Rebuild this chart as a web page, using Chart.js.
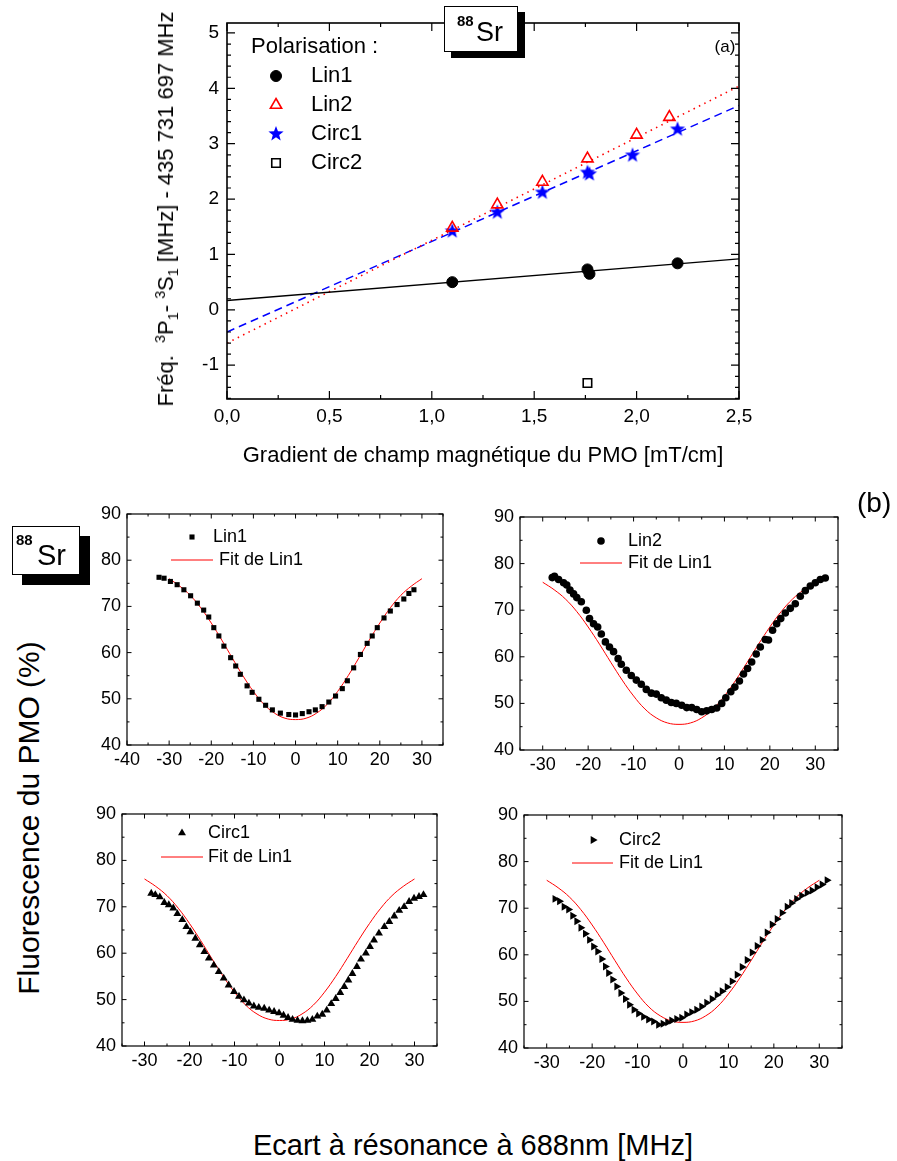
<!DOCTYPE html>
<html>
<head>
<meta charset="utf-8">
<script src="https://cdn.jsdelivr.net/npm/chart.js@4.4.1/dist/chart.umd.min.js"></script>
<style>
  body { margin: 0; background: #fff; }
  #page { position: relative; width: 897px; height: 1161px; overflow: hidden; font-family: "Liberation Sans", Arial, sans-serif; color: #000; }
  canvas { position: absolute; }
  .txt { position: absolute; white-space: nowrap; line-height: 1; }
  .rot { transform: translate(-50%, -50%) rotate(-90deg); }
  .ctr { transform: translate(-50%, -50%); }
  .sr { position: absolute; background: #fff; border: 1px solid #000; }
  .sr span { position: absolute; line-height: 1; }
  .iso { font-weight: bold; }
  sup, sub { font-size: 65%; line-height: 0; }
</style>
</head>
<body>
<div id="page">
  <canvas id="chartA"></canvas>
  <canvas id="chartLin1"></canvas>
  <canvas id="chartLin2"></canvas>
  <canvas id="chartCirc1"></canvas>
  <canvas id="chartCirc2"></canvas>

  <div class="txt rot" style="left:166px;top:209px;font-size:22px">Fréq.&nbsp; <sup>3</sup>P<sub>1</sub>- <sup>3</sup>S<sub>1</sub> [MHz] - 435 731 697 MHz</div>
  <div class="txt ctr" style="left:483px;top:455px;font-size:22px">Gradient de champ magnétique du PMO [mT/cm]</div>
  <div class="txt ctr" style="left:725px;top:46px;font-size:17px">(a)</div>
  <div class="sr" style="left:444px;top:6px;width:72px;height:44px;box-shadow:7px 6px 0 #000">
    <span class="iso" style="left:12px;top:6px;font-size:15px">88</span>
    <span style="left:31px;top:12px;font-size:27px">Sr</span>
  </div>

  <div class="txt" style="left:857px;top:489px;font-size:28px">(b)</div>
  <div class="sr" style="left:12px;top:526px;width:66px;height:47px;box-shadow:10px 10px 0 #000">
    <span class="iso" style="left:3px;top:5px;font-size:15px">88</span>
    <span style="left:24px;top:14px;font-size:29px">Sr</span>
  </div>
  <div class="txt rot" style="left:29px;top:818px;font-size:30px">Fluorescence du PMO (%)</div>
  <div class="txt ctr" style="left:473px;top:1145px;font-size:29px">Ecart à résonance à 688nm [MHz]</div>
</div>

<script>
// ---- (a) line shift vs MOT gradient ----
const gradLin1 = [1.10, 1.76, 1.77, 2.20];
const freqLin1 = [0.50, 0.73, 0.65, 0.84];
const gradLin2 = [1.10, 1.32, 1.54, 1.76, 2.00, 2.16];
const freqLin2 = [1.48, 1.90, 2.31, 2.73, 3.16, 3.48];
const gradCirc1 = [1.10, 1.32, 1.54, 1.76, 1.77, 1.98, 2.20];
const freqCirc1 = [1.42, 1.76, 2.12, 2.48, 2.45, 2.79, 3.26];
const gradCirc2 = [1.76];
const freqCirc2 = [-1.32];
const fitGrad = [0, 2.5];
const fitFreqLin1 = [0.17, 0.92];
const fitFreqLin2 = [-0.60, 4.04];
const fitFreqCirc1 = [-0.40, 3.69];
const gradTicks = [0, 0.5, 1, 1.5, 2, 2.5];
const freqTicks = [-1, 0, 1, 2, 3, 4, 5];

// ---- (b) fluorescence vs detuning ----
const detFit = [-30, -27.5, -25, -22.5, -20, -17.5, -15, -12.5, -10, -7.5, -5, -2.5, 0,
                2.5, 5, 7.5, 10, 12.5, 15, 17.5, 20, 22.5, 25, 27.5, 30];
const fluoFit = [76.0, 74.4, 72.4, 69.7, 66.4, 62.7, 58.8, 55.0, 51.6, 48.8, 46.9, 45.8, 45.5,
                 45.8, 46.9, 48.8, 51.6, 55.0, 58.8, 62.7, 66.4, 69.7, 72.4, 74.4, 76.0];

const detLin1 = [-32.4, -31.2, -29.7, -28.1, -26.5, -24.9, -23.3, -21.8, -20.6, -19.4, -18.2, -17.0,
                 -15.4, -14.2, -13.1, -11.5, -10.3, -8.7, -7.1, -5.5, -3.6, -1.6, 0, 1.6, 3.2, 4.7,
                 6.3, 7.9, 9.5, 11.1, 12.3, 13.8, 15.4, 17.0, 18.2, 19.4, 21.0, 22.5, 24.1, 25.7, 26.9, 28.1];
const fluoLin1 = [76.3, 76.1, 75.4, 74.7, 73.6, 72.3, 70.7, 69.2, 67.7, 65.4, 63.6, 61.4,
                  58.9, 57.1, 55.3, 52.8, 51.4, 49.9, 48.6, 47.6, 46.9, 46.6, 46.5, 46.8, 47.2, 47.6,
                  48.3, 49.3, 50.6, 52.2, 53.9, 56.7, 59.6, 62.0, 63.6, 65.4, 67.5, 69.0, 70.4, 71.6, 72.8, 73.6];

const detLin2 = [-27.9, -27.4, -26.5, -25.4, -24.7, -24.0, -23.2, -22.5, -21.5, -20.4, -19.7, -18.8,
                 -17.9, -17.1, -16.2, -15.3, -14.4, -13.4, -12.7, -11.6, -10.5, -9.4, -8.3, -7.2,
                 -6.1, -5.0, -3.9, -2.8, -1.7, -0.6, 0.6, 1.7, 2.8, 3.9, 5.0, 6.1, 7.2, 8.3, 9.4,
                 10.3, 11.4, 12.3, 13.3, 14.2, 15.1, 16.0, 17.0, 17.9, 19.0, 19.7, 20.6, 21.5, 22.4,
                 23.4, 24.5, 25.6, 26.7, 27.8, 28.9, 30.0, 31.1, 32.2];
const fluoLin2 = [77.0, 77.3, 76.6, 75.9, 75.4, 74.3, 73.5, 72.7, 71.8, 70.0, 68.2, 67.1,
                  66.4, 64.9, 63.2, 62.1, 61.1, 59.6, 58.4, 57.1, 56.0, 55.0, 54.1, 53.0,
                  52.2, 52.0, 51.2, 50.7, 50.2, 50.0, 49.6, 49.1, 49.1, 48.7, 48.2, 48.4, 48.7, 49.0, 50.0,
                  51.2, 52.5, 53.5, 54.8, 56.3, 57.5, 58.9, 60.6, 62.1, 63.7, 63.6, 65.7, 67.1, 68.2,
                  69.4, 70.4, 71.4, 73.0, 74.2, 75.2, 75.9, 76.6, 76.9];

const detCirc1 = [-28.5, -27.6, -26.6, -25.6, -24.6, -23.6, -22.7, -21.6, -20.7, -19.8, -18.7, -17.7,
                  -16.7, -15.7, -14.6, -13.5, -12.4, -11.3, -10.1, -9.0, -7.9, -6.8, -5.7, -4.6, -3.4,
                  -2.3, -1.2, -0.1, 0.9, 1.9, 2.9, 4.0, 5.1, 6.2, 7.3, 8.4, 9.5, 10.5, 11.5, 12.5, 13.5,
                  14.4, 15.3, 16.2, 17.2, 18.1, 19.2, 20.1, 21.0, 22.1, 23.3, 24.4, 25.5, 26.6, 27.7,
                  28.8, 29.9, 31.0, 32.0];
const fluoCirc1 = [72.9, 72.6, 72.1, 70.9, 70.4, 69.7, 68.5, 67.2, 65.7, 64.6, 63.2, 61.8,
                   60.3, 58.9, 57.4, 56.0, 54.6, 53.1, 51.7, 50.7, 49.9, 49.2, 48.6, 48.3, 48.1,
                   47.7, 47.4, 47.1, 46.6, 46.1, 45.7, 45.5, 45.4, 45.5, 45.7, 46.4, 46.8, 47.7, 49.1, 50.2, 51.5,
                   52.8, 54.2, 55.6, 57.1, 58.7, 60.0, 61.4, 62.8, 64.3, 65.7, 66.8, 68.0, 69.2, 70.0,
                   71.1, 71.8, 72.2, 72.6];

const detCirc2 = [-28.2, -27.2, -26.2, -25.2, -24.3, -23.4, -22.5, -21.5, -20.6, -19.7, -18.8, -17.9,
                  -17.1, -16.4, -15.5, -14.6, -13.7, -12.7, -11.8, -10.8, -9.8, -8.7, -7.6, -6.5, -5.4,
                  -4.4, -3.4, -2.5, -1.4, -0.3, 0.8, 1.9, 3.0, 4.1, 5.2, 6.4, 7.5, 8.6, 9.7, 10.8, 11.9,
                  13.0, 14.1, 15.2, 16.3, 17.4, 18.5, 19.6, 20.7, 21.8, 22.9, 23.9, 25.0, 26.1, 27.3,
                  28.4, 29.5, 30.6, 31.7];
const fluoCirc2 = [72.0, 71.5, 70.3, 69.7, 68.4, 67.2, 65.8, 64.5, 63.2, 61.8, 60.7, 59.1,
                   57.5, 56.1, 54.7, 53.2, 51.8, 50.5, 49.3, 48.2, 47.4, 46.7, 46.1, 45.7, 45.0,
                   45.2, 45.5, 45.9, 46.2, 46.5, 47.2, 47.7, 48.2, 48.9, 49.7, 50.5, 51.4, 52.2, 53.1, 54.3, 55.7,
                   57.4, 58.9, 60.5, 61.9, 63.2, 64.8, 66.5, 67.7, 69.0, 70.3, 71.1, 72.0, 72.7, 73.3,
                   73.8, 74.5, 75.1, 76.0];

const detTicksWide = [-40, -30, -20, -10, 0, 10, 20, 30];
const detTicks = [-30, -20, -10, 0, 10, 20, 30];
const fluoTicks = [40, 50, 60, 70, 80, 90];

const FONT = '"Liberation Sans", Arial, sans-serif';
const AX_W = 50, AX_H = 36, PAD = 20;

function pts(xs, ys) {
    return xs.map((x, i) => ({ x: x, y: ys[i] }));
}

function starImage(r, color) {
    const c = document.createElement('canvas');
    const s = Math.ceil(r * 2) + 2;
    c.width = c.height = s;
    const g = c.getContext('2d');
    g.fillStyle = color;
    g.beginPath();
    for (let i = 0; i < 10; i++) {
        const rr = i % 2 ? r * 0.42 : r;
        const a = -Math.PI / 2 + i * Math.PI / 5;
        g.lineTo(s / 2 + rr * Math.cos(a), s / 2 + rr * Math.sin(a));
    }
    g.closePath();
    g.fill();
    return c;
}

// frame + inward major/minor ticks on all four sides
const boxTicks = {
    id: 'boxTicks',
    afterDatasetsDraw(chart, args, o) {
        const { ctx, chartArea: a, scales } = chart;
        const minors = (ticks, step, min, max) => {
            const out = [];
            for (let v = ticks[0] - step * 20; v <= max + 1e-9; v += step) {
                if (v >= min - 1e-9 && !ticks.some(t => Math.abs(t - v) < 1e-6)) out.push(v);
            }
            return out;
        };
        const xs = scales.x, ys = scales.y;
        const xT = xs.ticks.map(t => t.value), yT = ys.ticks.map(t => t.value);
        ctx.save();
        ctx.strokeStyle = '#000';
        ctx.lineWidth = o.lw;
        ctx.beginPath();
        const tickX = (v, len) => {
            const p = xs.getPixelForValue(v);
            ctx.moveTo(p, a.bottom); ctx.lineTo(p, a.bottom - len);
            ctx.moveTo(p, a.top); ctx.lineTo(p, a.top + len);
        };
        const tickY = (v, len) => {
            const p = ys.getPixelForValue(v);
            ctx.moveTo(a.left, p); ctx.lineTo(a.left + len, p);
            ctx.moveTo(a.right, p); ctx.lineTo(a.right - len, p);
        };
        xT.forEach(v => tickX(v, o.major));
        yT.forEach(v => tickY(v, o.major));
        minors(xT, o.xMinor, xs.min, xs.max).forEach(v => tickX(v, o.minor));
        minors(yT, o.yMinor, ys.min, ys.max).forEach(v => tickY(v, o.minor));
        ctx.stroke();
        ctx.lineWidth = o.frame;
        ctx.strokeRect(a.left, a.top, a.right - a.left, a.bottom - a.top);
        ctx.restore();
    }
};

// legend placed inside the plot, offsets in px from the chart area corner
const insideLegend = {
    id: 'insideLegend',
    afterDraw(chart, args, o) {
        const { ctx, chartArea: a } = chart;
        ctx.save();
        ctx.font = o.size + 'px ' + FONT;
        ctx.fillStyle = '#000';
        ctx.textBaseline = 'middle';
        if (o.header) ctx.fillText(o.header.text, a.left + o.header.x, a.top + o.header.y);
        o.items.forEach(it => {
            const ds = chart.data.datasets[it.ds];
            const y = a.top + it.y;
            ctx.save();
            if (it.line) {
                ctx.strokeStyle = ds.borderColor;
                ctx.lineWidth = ds.borderWidth;
                ctx.beginPath();
                ctx.moveTo(a.left + it.line[0], y);
                ctx.lineTo(a.left + it.line[1], y);
                ctx.stroke();
            } else {
                ctx.fillStyle = ds.backgroundColor;
                ctx.strokeStyle = ds.borderColor;
                ctx.lineWidth = ds.borderWidth;
                Chart.helpers.drawPoint(ctx, {
                    pointStyle: ds.pointStyle, radius: ds.pointRadius,
                    rotation: ds.rotation || 0, borderWidth: ds.borderWidth
                }, a.left + it.mx, y);
            }
            ctx.restore();
            ctx.fillText(ds.label, a.left + it.tx, y);
        });
        ctx.restore();
    }
};

function axis(min, max, ticks, size, pad, fmt, isX) {
    const ax = {
        type: 'linear', min: min, max: max,
        afterBuildTicks: s => { s.ticks = ticks.map(v => ({ value: v })); },
        grid: { display: false, drawTicks: false },
        border: { display: false },
        ticks: {
            color: '#000', font: { family: FONT, size: size }, padding: pad,
            maxRotation: 0, autoSkip: false, callback: fmt || (v => String(v))
        }
    };
    if (isX) ax.afterFit = s => { s.height = AX_H; };
    else ax.afterFit = s => { s.width = AX_W; };
    return ax;
}

function makeChart(id, box, datasets, scales, plugins) {
    const cv = document.getElementById(id);
    const w = box.r - box.l + AX_W + 2 * PAD;
    const h = box.b - box.t + AX_H + 2 * PAD;
    cv.width = w; cv.height = h;
    cv.style.left = (box.l - AX_W - PAD) + 'px';
    cv.style.top = (box.t - PAD) + 'px';
    cv.style.width = w + 'px'; cv.style.height = h + 'px';
    return new Chart(cv, {
        type: 'scatter',
        data: { datasets: datasets },
        options: {
            responsive: false, animation: false, devicePixelRatio: 1,
            layout: { padding: PAD },
            scales: scales,
            plugins: Object.assign({ legend: { display: false }, tooltip: { enabled: false } }, plugins)
        },
        plugins: [boxTicks, insideLegend]
    });
}

// ---- (a) ----
const comma = v => v.toFixed(1).replace('.', ',');
makeChart('chartA', { l: 227, t: 23, r: 739, b: 399 }, [
    { label: 'Lin1', data: pts(gradLin1, freqLin1), pointStyle: 'circle', pointRadius: 5.5,
      backgroundColor: '#000', borderColor: '#000', borderWidth: 1 },
    { label: 'Lin2', data: pts(gradLin2, freqLin2), pointStyle: 'triangle', pointRadius: 6.5,
      backgroundColor: 'rgba(0,0,0,0)', borderColor: '#ff0000', borderWidth: 1.6 },
    { label: 'Circ1', data: pts(gradCirc1, freqCirc1), pointStyle: starImage(8, '#0000ff'), pointRadius: 8,
      backgroundColor: '#0000ff', borderColor: '#0000ff', borderWidth: 0 },
    { label: 'Circ2', data: pts(gradCirc2, freqCirc2), pointStyle: 'rect', pointRadius: 6,
      backgroundColor: 'rgba(0,0,0,0)', borderColor: '#000', borderWidth: 1.6 },
    { label: 'fit Lin1', data: pts(fitGrad, fitFreqLin1), showLine: true, pointRadius: 0,
      borderColor: '#000', borderWidth: 1.4 },
    { label: 'fit Lin2', data: pts(fitGrad, fitFreqLin2), showLine: true, pointRadius: 0,
      borderColor: '#ff0000', borderWidth: 1.6, borderDash: [1.5, 4.5] },
    { label: 'fit Circ1', data: pts(fitGrad, fitFreqCirc1), showLine: true, pointRadius: 0,
      borderColor: '#0000ff', borderWidth: 1.5, borderDash: [8, 5] }
], {
    x: axis(0, 2.5, gradTicks, 19, 6, comma, true),
    y: axis(-1.61, 5.18, freqTicks, 19, 8, null, false)
}, {
    boxTicks: { major: 8, minor: 4, xMinor: 0.25, yMinor: 0.2, lw: 1.2, frame: 1.6 },
    insideLegend: {
        size: 22,
        header: { text: 'Polarisation :', x: 24, y: 24 },
        items: [
            { ds: 0, mx: 49, tx: 84, y: 53 },
            { ds: 1, mx: 49, tx: 84, y: 82 },
            { ds: 2, mx: 49, tx: 84, y: 111 },
            { ds: 3, mx: 49, tx: 84, y: 140 }
        ]
    }
});

// ---- (b) four panels ----
function panel(id, box, xMin, xTicks, ds, leg) {
    makeChart(id, box, [
        Object.assign({ borderColor: '#000', backgroundColor: '#000', borderWidth: 0 }, ds),
        { label: 'Fit de Lin1', data: pts(detFit, fluoFit), showLine: true, pointRadius: 0,
          borderColor: '#ff0000', borderWidth: 1, tension: 0.4 }
    ], {
        x: axis(xMin, 35, xTicks, 18, 4, null, true),
        y: axis(40, 90, fluoTicks, 18, 6, null, false)
    }, {
        boxTicks: { major: 4.5, minor: 2.5, xMinor: 5, yMinor: 5, lw: 1, frame: 1.2 },
        insideLegend: {
            size: 18,
            items: [
                { ds: 0, mx: leg.mx, tx: leg.tx, y: leg.y },
                { ds: 1, line: leg.line, tx: leg.tx2, y: leg.y2 }
            ]
        }
    });
}

panel('chartLin1', { l: 127, t: 514, r: 443, b: 745 }, -40, detTicksWide,
    { label: 'Lin1', data: pts(detLin1, fluoLin1), pointStyle: 'rect', pointRadius: 3.6 },
    { mx: 65, tx: 86, y: 23, line: [44, 86], tx2: 92, y2: 46 });

panel('chartLin2', { l: 520, t: 517, r: 838, b: 750 }, -35, detTicks,
    { label: 'Lin2', data: pts(detLin2, fluoLin2), pointStyle: 'circle', pointRadius: 3.8 },
    { mx: 81, tx: 108, y: 24, line: [60, 102], tx2: 108, y2: 46 });

panel('chartCirc1', { l: 122, t: 814, r: 437, b: 1046 }, -35, detTicks,
    { label: 'Circ1', data: pts(detCirc1, fluoCirc1), pointStyle: 'triangle', pointRadius: 4.6 },
    { mx: 60, tx: 86, y: 19, line: [39, 81], tx2: 86, y2: 43 });

panel('chartCirc2', { l: 524, t: 815, r: 842, b: 1048 }, -35, detTicks,
    { label: 'Circ2', data: pts(detCirc2, fluoCirc2), pointStyle: 'triangle', rotation: 90, pointRadius: 4.6 },
    { mx: 69, tx: 95, y: 25, line: [48, 89], tx2: 95, y2: 48 });
</script>
</body>
</html>
